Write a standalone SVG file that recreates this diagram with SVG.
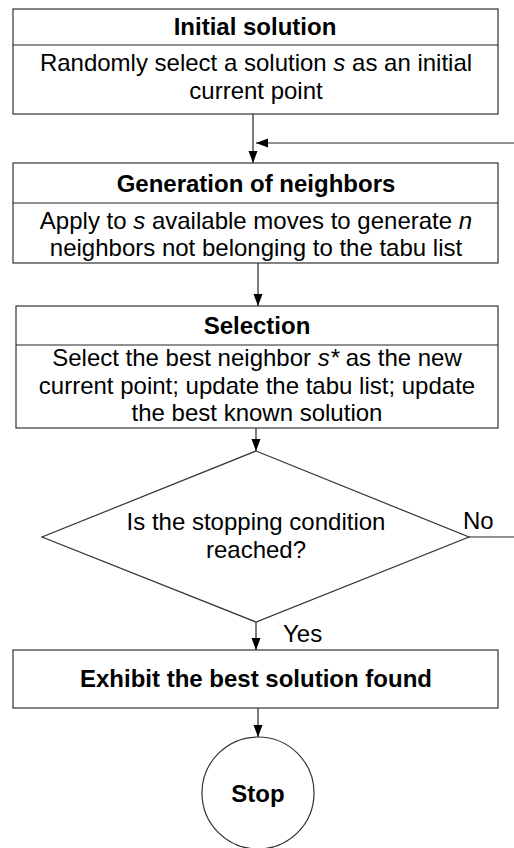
<svg xmlns="http://www.w3.org/2000/svg" width="514" height="848" viewBox="0 0 514 848">
<style>
.box{fill:#fff;stroke:#333;stroke-width:1.2}
.ln{fill:none;stroke:#222;stroke-width:1.2}
.t{font-family:"Liberation Sans",Arial,sans-serif;font-size:24px;fill:#000;text-anchor:middle}
.b{font-weight:bold}
.l{text-anchor:start}
</style>
<defs>
<marker id="ah" viewBox="0 0 12 10" refX="12" refY="5" markerWidth="12" markerHeight="10" markerUnits="userSpaceOnUse" orient="auto">
<path d="M0,0.5 L12,5 L0,9.5 Z" fill="#000"/>
</marker>
</defs>
<rect width="514" height="848" fill="#fff"/>
<g id="connectors">
<line class="ln" x1="253" y1="114" x2="253" y2="163" marker-end="url(#ah)"/>
<polyline class="ln" points="469,537 530,537 530,143 256,143" marker-end="url(#ah)"/>
<line class="ln" x1="258" y1="263" x2="258" y2="306" marker-end="url(#ah)"/>
<line class="ln" x1="256" y1="428" x2="256" y2="451" marker-end="url(#ah)"/>
<line class="ln" x1="256" y1="622" x2="256" y2="650" marker-end="url(#ah)"/>
<line class="ln" x1="258" y1="708" x2="258" y2="737" marker-end="url(#ah)"/>
<text class="t l" x="463" y="529">No</text>
<text class="t l" x="283" y="642">Yes</text>
</g>
<g id="initial">
<rect class="box" x="13" y="9" width="485" height="105"/>
<line class="ln" x1="13" y1="45" x2="498" y2="45"/>
<text class="t b" x="255" y="35">Initial solution</text>
<text class="t" x="256" y="71">Randomly select a solution <tspan font-style="italic">s</tspan> as an initial</text>
<text class="t" x="256" y="99">current point</text>
</g>
<g id="generation">
<rect class="box" x="13" y="163" width="485" height="100"/>
<line class="ln" x1="13" y1="203" x2="498" y2="203"/>
<text class="t b" x="256" y="192">Generation of neighbors</text>
<text class="t" x="256" y="229">Apply to <tspan font-style="italic">s</tspan> available moves to generate <tspan font-style="italic">n</tspan></text>
<text class="t" x="256" y="256">neighbors not belonging to the tabu list</text>
</g>
<g id="selection">
<rect class="box" x="16" y="306" width="482" height="122"/>
<line class="ln" x1="16" y1="345" x2="498" y2="345"/>
<text class="t b" x="257" y="334">Selection</text>
<text class="t" x="257" y="366">Select the best neighbor <tspan font-style="italic">s*</tspan> as the new</text>
<text class="t" x="257" y="394">current point; update the tabu list; update</text>
<text class="t" x="257" y="421">the best known solution</text>
</g>
<g id="decision">
<polygon class="box" points="256,451 469,537 256,622 42,537"/>
<text class="t" x="256" y="530">Is the stopping condition</text>
<text class="t" x="256" y="558">reached?</text>
</g>
<g id="exhibit">
<rect class="box" x="13" y="650" width="485" height="58"/>
<text class="t b" x="256" y="687">Exhibit the best solution found</text>
</g>
<g id="stop">
<circle class="box" cx="258" cy="793" r="56"/>
<text class="t b" x="258" y="802">Stop</text>
</g>
</svg>
